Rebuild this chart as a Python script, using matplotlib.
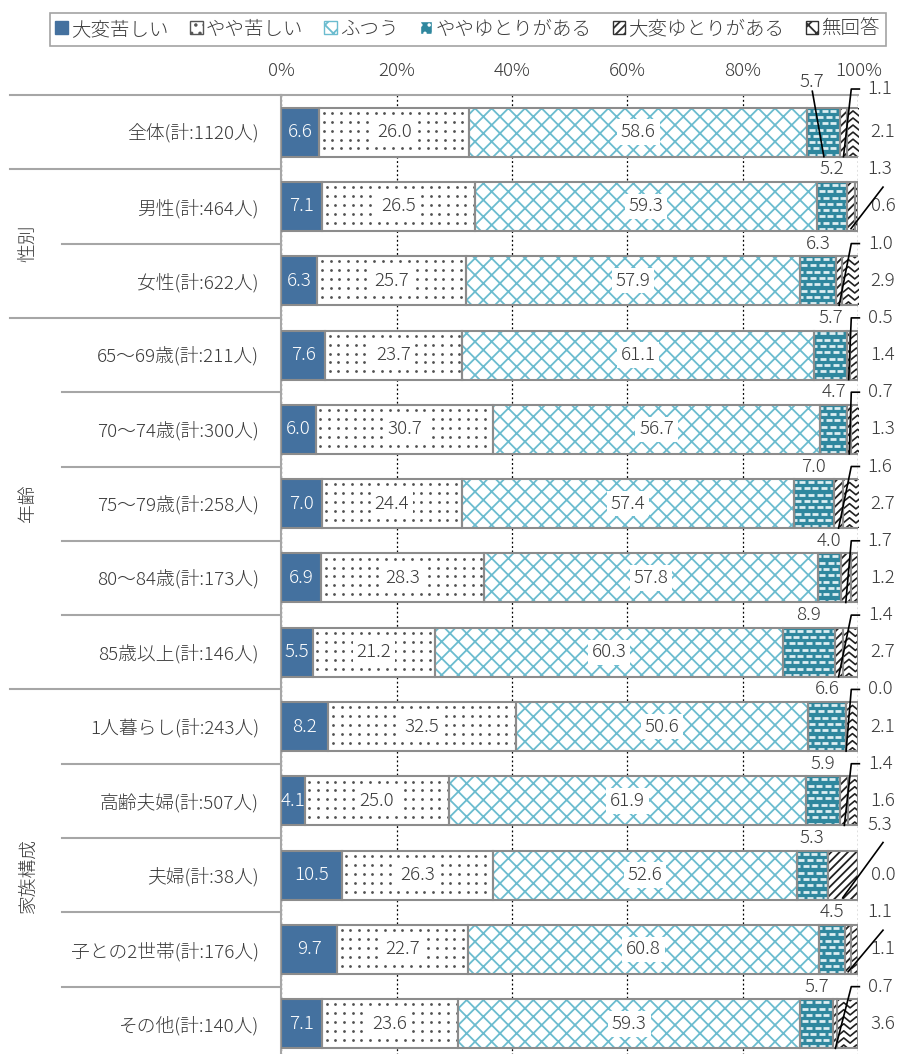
import matplotlib
matplotlib.use("Agg")
import matplotlib.pyplot as plt
import matplotlib.transforms as mtransforms
from matplotlib.patches import Patch
import numpy as np

plt.rcParams['font.family'] = ['Noto Sans CJK JP', 'DejaVu Sans']
plt.rcParams['font.weight'] = 'light'
plt.rcParams['hatch.linewidth'] = 1.3

categories = [
    "全体(計:1120人)", "男性(計:464人)", "女性(計:622人)",
    "65～69歳(計:211人)", "70～74歳(計:300人)", "75～79歳(計:258人)",
    "80～84歳(計:173人)", "85歳以上(計:146人)",
    "1人暮らし(計:243人)", "高齢夫婦(計:507人)", "夫婦(計:38人)",
    "子との2世帯(計:176人)", "その他(計:140人)",
]
groups = [("性別", 1, 2), ("年齢", 3, 7), ("家族構成", 8, 12)]
series_names = ["大変苦しい", "やや苦しい", "ふつう", "ややゆとりがある", "大変ゆとりがある", "無回答"]

very_hard = [6.6, 7.1, 6.3, 7.6, 6.0, 7.0, 6.9, 5.5, 8.2, 4.1, 10.5, 9.7, 7.1]
somewhat_hard = [26.0, 26.5, 25.7, 23.7, 30.7, 24.4, 28.3, 21.2, 32.5, 25.0, 26.3, 22.7, 23.6]
normal = [58.6, 59.3, 57.9, 61.1, 56.7, 57.4, 57.8, 60.3, 50.6, 61.9, 52.6, 60.8, 59.3]
somewhat_easy = [5.7, 5.2, 6.3, 5.7, 4.7, 7.0, 4.0, 8.9, 6.6, 5.9, 5.3, 4.5, 5.7]
very_easy = [1.1, 1.3, 1.0, 0.5, 0.7, 1.6, 1.7, 1.4, 0.0, 1.4, 5.3, 1.1, 0.7]
no_answer = [2.1, 0.6, 2.9, 1.4, 1.3, 2.7, 1.2, 2.7, 2.1, 1.6, 0.0, 1.1, 3.6]

TEXT = "#3a3a3a"
EDGE = "#8c8c8c"
BLUE = "#44719f"
TEAL = "#2f879e"
LIGHT_TEAL = "#6bbccf"
BAR_H = 0.66
FS_VAL = 13.5
FS_CAT = 13.5
FS_LEG = 14

# rows whose small-segment labels use a slanted leader instead of the bracket
slant_rows = {1, 10, 11}

fig = plt.figure(figsize=(9.01, 10.54), dpi=100)
ax = fig.add_axes([0.312, -0.0066, 0.6405, 0.9165])

y = np.arange(len(categories))
data = [np.array(s) for s in (very_hard, somewhat_hard, normal, somewhat_easy, very_easy, no_answer)]
cum = np.cumsum(data, axis=0)
lefts = np.vstack([np.zeros(len(y))] + [cum[k] for k in range(5)])

# fill / hatch per series: (facecolor, hatch colour, hatch)
styles = [
    (BLUE, BLUE, None),
    ("white", "white", None),
    ("white", LIGHT_TEAL, "xx"),
    (TEAL, TEAL, None),
    ("white", "#202020", "////"),
    ("white", "white", None),
]

rects = []
for k, (vals, (fc, hc, hatch)) in enumerate(zip(data, styles)):
    ax.barh(y, vals, left=lefts[k], height=BAR_H, color=fc, edgecolor=hc,
            hatch=hatch, linewidth=0, zorder=2)
    outline = ax.barh(y, vals, left=lefts[k], height=BAR_H, fill=False,
                      edgecolor=EDGE, linewidth=1.5, zorder=4)
    rects.append(outline.patches)


def clipped(patch, xs, ys, **kw):
    ln, = ax.plot(xs, ys, zorder=3, **kw)
    ln.set_clip_path(patch)


# dot grid on the "やや苦しい" segments
for i, patch in enumerate(rects[1]):
    x0, w = lefts[1][i], data[1][i]
    xs = np.arange(x0 + 0.8, x0 + w, 1.5)
    for yy in np.arange(i - BAR_H / 2 + 0.07, i + BAR_H / 2, 0.12):
        clipped(patch, xs, np.full_like(xs, yy), ls="none", marker="o", ms=2.0,
                mew=0, color="#505050")

# white dashes on the "ややゆとりがある" segments
for i, patch in enumerate(rects[3]):
    x0, w = lefts[3][i], data[3][i]
    if w <= 0:
        continue
    for r, yy in enumerate(np.arange(i - BAR_H / 2 + 0.04, i + BAR_H / 2, 0.085)):
        off = 0.75 if r % 2 else 0.0
        xs = np.arange(x0 - 1.5 + off, x0 + w + 1.5, 1.5)
        clipped(patch, xs, np.full_like(xs, yy), ls="none", marker="_", ms=4.5,
                mew=2.0, color="#dceef2")

# chevron zigzag on the "無回答" segments
for i, patch in enumerate(rects[5]):
    x0, w = lefts[5][i], data[5][i]
    if w <= 0:
        continue
    xs = np.arange(x0 - 2.2, x0 + w + 2.2, 1.1)
    peaks = np.where(np.arange(len(xs)) % 2 == 0, 0.07, 0.0)
    for yy in np.arange(i - BAR_H / 2 - 0.05, i + BAR_H / 2 + 0.1, 0.095):
        clipped(patch, xs, yy + peaks, color="#202020", lw=1.2)

# value labels
for i in range(len(y)):
    ax.text(lefts[0][i] + data[0][i] / 2, i, f"{data[0][i]:.1f}", ha="center",
            va="center", color="white", fontsize=FS_VAL, zorder=5)
    for k in (1, 2):
        ax.text(lefts[k][i] + data[k][i] / 2, i, f"{data[k][i]:.1f}", ha="center",
                va="center", color=TEXT, fontsize=FS_VAL, zorder=5,
                bbox=dict(boxstyle="square,pad=0.2", fc="white", ec="none"))

    seg_c = lefts[3][i] + data[3][i] / 2
    if i == 0:
        ax.text(seg_c - 2, i - 0.68, f"{data[3][i]:.1f}", ha="center", va="center",
                color=TEXT, fontsize=FS_VAL, clip_on=False)
        ax.plot([seg_c - 2, seg_c], [i - 0.55, i + BAR_H / 2], color="black",
                lw=1.2, zorder=6, clip_on=False)
    else:
        ax.text(seg_c, i - 0.5, f"{data[3][i]:.1f}", ha="center", va="center",
                color=TEXT, fontsize=FS_VAL, zorder=5)

    top_y = i - 0.58 if i == 0 else i - 0.5
    if i == 10:
        top_y = i - 0.68
    ax.text(103.8, top_y, f"{data[4][i]:.1f}", ha="center", va="center",
            color=TEXT, fontsize=FS_VAL, clip_on=False)
    ax.text(104.3, i, f"{data[5][i]:.1f}", ha="center", va="center",
            color=TEXT, fontsize=FS_VAL, clip_on=False)

    ve_c = lefts[4][i] + data[4][i] / 2
    if i in slant_rows:
        ax.plot([ve_c, 104.3], [i + 0.3, top_y + 0.24], color="black", lw=1.2,
                zorder=6, clip_on=False)
    else:
        ax.plot([100.2, 98.8, ve_c], [top_y, top_y, i + BAR_H / 2], color="black",
                lw=1.2, zorder=6, clip_on=False)

ax.set_xlim(0, 100)
ax.set_ylim(len(y) - 0.5, -0.5)
ax.set_xticks(np.arange(0, 101, 20))
ax.set_xticklabels([f"{t}%" for t in range(0, 101, 20)])
ax.xaxis.tick_top()
ax.tick_params(axis="x", length=0, pad=11, labelsize=FS_CAT, labelcolor=TEXT)
ax.set_yticks(y)
ax.set_yticklabels(categories)
ax.tick_params(axis="y", length=0, pad=16, labelsize=FS_CAT, labelcolor=TEXT)
ax.grid(axis="x", color="black", ls=(0, (1.5, 2)), lw=0.9, zorder=0)
ax.set_axisbelow(True)
for side in ("right", "bottom"):
    ax.spines[side].set_visible(False)
for side in ("top", "left"):
    ax.spines[side].set_color("#a6a6a6")
    ax.spines[side].set_linewidth(1.5)

# group separators and group names in the label column
blend = mtransforms.blended_transform_factory(ax.transAxes, ax.transData)
full_breaks = {-0.5, 0.5, 2.5, 7.5}
for b in np.arange(-0.5, len(y) - 0.5, 1.0):
    x_start = -0.47 if b in full_breaks else -0.38
    ax.plot([x_start, 0], [b, b], transform=blend, color="#a6a6a6", lw=1.5,
            clip_on=False)
for name, first, last in groups:
    ax.text(-0.438, (first + last) / 2, name, transform=blend, rotation=90,
            ha="center", va="center", color=TEXT, fontsize=FS_CAT)

handles = [
    Patch(facecolor=BLUE, edgecolor=BLUE),
    Patch(facecolor="white", edgecolor="#555555", hatch=".."),
    Patch(facecolor="white", edgecolor=LIGHT_TEAL, hatch="xx"),
    Patch(facecolor=TEAL, edgecolor="white", hatch=".."),
    Patch(facecolor="white", edgecolor="#303030", hatch="////"),
    Patch(facecolor="white", edgecolor="#303030", hatch="xx"),
]
leg = fig.legend(handles, series_names, loc="upper center", bbox_to_anchor=(0.519, 0.997),
                 ncol=6, fontsize=FS_LEG, frameon=True, fancybox=False, edgecolor="#8c8c8c",
                 handlelength=0.65, handleheight=0.65, handletextpad=0.15,
                 columnspacing=1.1, borderpad=0.3)
for t in leg.get_texts():
    t.set_color(TEXT)
leg.get_frame().set_linewidth(1.2)

fig.savefig("out.png", dpi=100)
